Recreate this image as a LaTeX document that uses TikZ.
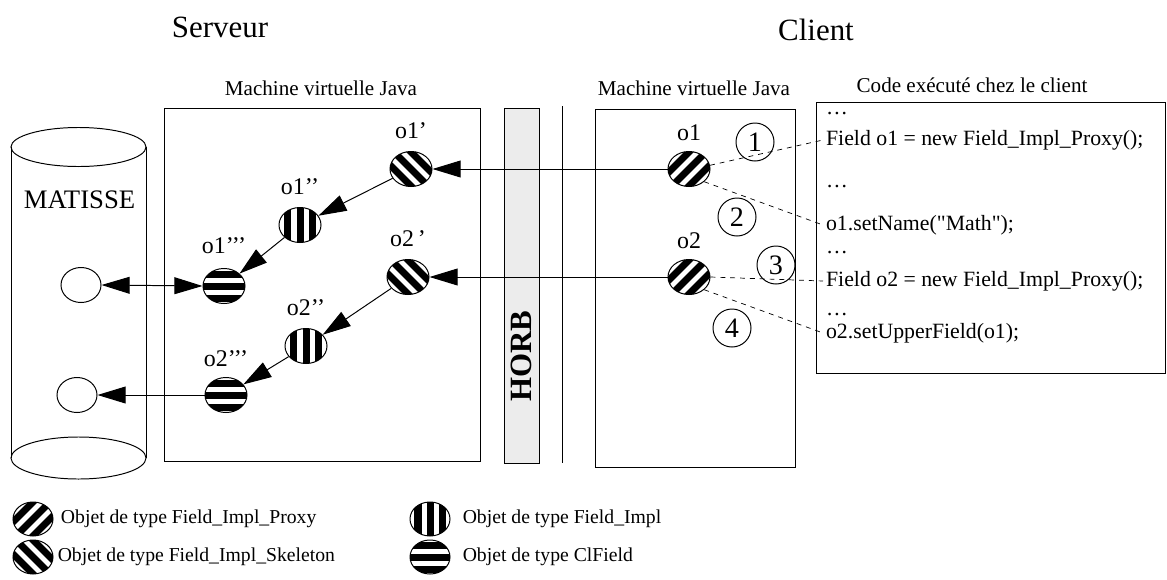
\documentclass[tikz,border=0pt]{standalone}
\usepackage{fontspec}
\setmainfont{Liberation Serif}
\newfontfamily\codefont{Liberation Serif}[Ligatures=ResetAll]
\usetikzlibrary{positioning,arrows.meta,shapes.geometric,calc}

\begin{document}
\begin{tikzpicture}[
  x=0.025cm, y=-0.025cm,
  >={Triangle[length=20pt,width=12pt]},
  box/.style={draw, line width=0.7pt},
  obj/.style={ellipse, draw, line width=0.7pt, minimum width=1.05cm, minimum height=0.875cm, inner sep=0pt},
  stripes/.style={path picture={
    \foreach \k in {-3,...,3}
      \draw[line width=0.175cm]
        ($(path picture bounding box.center)+(#1:\k*0.3cm)+(#1+90:1cm)$) --
        ($(path picture bounding box.center)+(#1:\k*0.3cm)+(#1-90:1cm)$);}},
  proxy/.style={obj, stripes=-45},
  skeleton/.style={obj, stripes=45},
  impl/.style={obj, stripes=0},
  clfield/.style={obj, stripes=90},
  record/.style={ellipse, draw, line width=0.7pt, minimum width=1cm, minimum height=0.875cm, inner sep=0pt},
  oname/.style={inner sep=0pt, font=\fontsize{17}{20}\selectfont},
  num/.style={circle, draw, line width=0.7pt, minimum size=0.95cm, inner sep=0pt, font=\fontsize{20}{24}\selectfont},
  codeline/.style={anchor=west, inner sep=2pt, font=\codefont\fontsize{15.5}{18}\selectfont},
  vmcap/.style={anchor=base, inner sep=0pt, font=\fontsize{15}{18}\selectfont},
  heading/.style={anchor=base, inner sep=0pt, font=\fontsize{22}{26}\selectfont},
  legtext/.style={anchor=west, inner sep=0pt, font=\fontsize{14}{17}\selectfont},
  call/.style={->, line width=0.7pt},
  trace/.style={dash pattern=on 3.5pt off 3.5pt, line width=0.5pt}
]
\useasboundingbox (0,0) rectangle (1167,580);

\node[heading] (serveur) at (220,37) {Serveur};
\node[heading] (client) at (816,40) {Client};
\node[vmcap] (jvmleft) at (321,95) {Machine virtuelle Java};
\node[vmcap] (jvmright) at (694,95) {Machine virtuelle Java};
\node[vmcap] (codecap) at (972,92) {Code exécuté chez le client};

\draw[box] (11,147) -- (11,458);
\draw[box] (146,147) -- (146,458);
\draw[box] (78.5,147) ellipse [x radius=1.6875cm, y radius=0.4875cm];
\draw[box] (78.5,458) ellipse [x radius=1.6875cm, y radius=0.525cm];
\node[anchor=base, inner sep=0pt, font=\fontsize{19}{22}\selectfont] (matisse) at (79.5,208) {MATISSE};
\node[record] (rec1) at (81,285) {};
\node[record] (rec2) at (77,395) {};

\draw[box] (164,108) rectangle (480,461);
\draw[box, fill=gray!15] (504,108) rectangle (539,463);
\node[rotate=90, font=\bfseries\fontsize{22}{26}\selectfont] (horb) at (521.5,356) {HORB};
\draw[box] (562,106) -- (562,463);
\draw[box] (595,109) rectangle (795,467);
\draw[box] (816,102) rectangle (1165,373);

\node[skeleton] (o1p) at (411,169) {};
\node[impl] (o1pp) at (300,225) {};
\node[clfield] (o1ppp) at (224,286) {};
\node[skeleton] (o2p) at (408,277) {};
\node[impl] (o2pp) at (306,346) {};
\node[clfield] (o2ppp) at (226,395) {};
\node[proxy] (o1) at (689,169) {};
\node[proxy] (o2) at (689,277) {};

\node[oname, above=0.3cm of o1p] (o1ptxt) {o1’};
\node[oname, above=0.3cm of o1pp] (o1pptxt) {o1’’};
\node[oname, above=0.35cm of o1ppp] (o1ppptxt) {o1’’’};
\node[oname, above=0.3cm of o2p] (o2ptxt) {o2\,’};
\node[oname, above=0.3cm of o2pp] (o2pptxt) {o2’’};
\node[oname, above=0.25cm of o2ppp] (o2ppptxt) {o2’’’};
\node[oname, above=0.25cm of o1] (o1txt) {o1};
\node[oname, above=0.25cm of o2] (o2txt) {o2};

\node[num] (n1) at (755,142) {1};
\node[num] (n2) at (737,217) {2};
\node[num] (n3) at (776,265) {3};
\node[num] (n4) at (732,328) {4};

\node[codeline] (dots1) at (823,114) {…};
\node[codeline] (line1) at (823,140) {Field o1 = new Field\_Impl\_Proxy();};
\node[codeline] (dots2) at (823,187) {…};
\node[codeline] (line2) at (823,225) {o1.setName("Math");};
\node[codeline] (dots3) at (823,253) {…};
\node[codeline] (line3) at (823,281) {Field o2 = new Field\_Impl\_Proxy();};
\node[codeline] (dots4) at (823,315) {…};
\node[codeline] (line4) at (823,333) {o2.setUpperField(o1);};

\draw[call] (o1.west) -- (o1p.east);
\draw[call] (o2.west) -- (o2p.east);
\draw[call] (o1p) -- (o1pp);
\draw[call] (o1pp) -- (o1ppp);
\draw[call] (o2p) -- (o2pp);
\draw[call] (o2pp) -- (o2ppp);
\draw[call, <->] (o1ppp.west) -- (rec1.east);
\draw[call] (o2ppp.west) -- (rec2.east);

\draw[trace] (o1.10) -- (line1.west);
\draw[trace] (o1.south east) -- (line2.west);
\draw[trace] (o2.east) -- (line3.west);
\draw[trace] (o2.south east) -- (line4.west);

\node[proxy, minimum width=1cm, minimum height=0.85cm] (legproxy) at (33,519) {};
\node[legtext, right=0.18cm of legproxy] (legproxytxt) {Objet de type Field\_Impl\_Proxy};
\node[skeleton, minimum width=1cm, minimum height=0.85cm] (legskel) at (33,557) {};
\node[legtext, right=0.1cm of legskel] (legskeltxt) {Objet de type Field\_Impl\_Skeleton};
\node[impl, minimum width=1cm, minimum height=0.85cm] (legimpl) at (430,519) {};
\node[legtext, right=0.3cm of legimpl] (legimpltxt) {Objet de type Field\_Impl};
\node[clfield, minimum width=1cm, minimum height=0.85cm] (legcl) at (430,557) {};
\node[legtext, right=0.3cm of legcl] (legcltxt) {Objet de type ClField};
\end{tikzpicture}
\end{document}
